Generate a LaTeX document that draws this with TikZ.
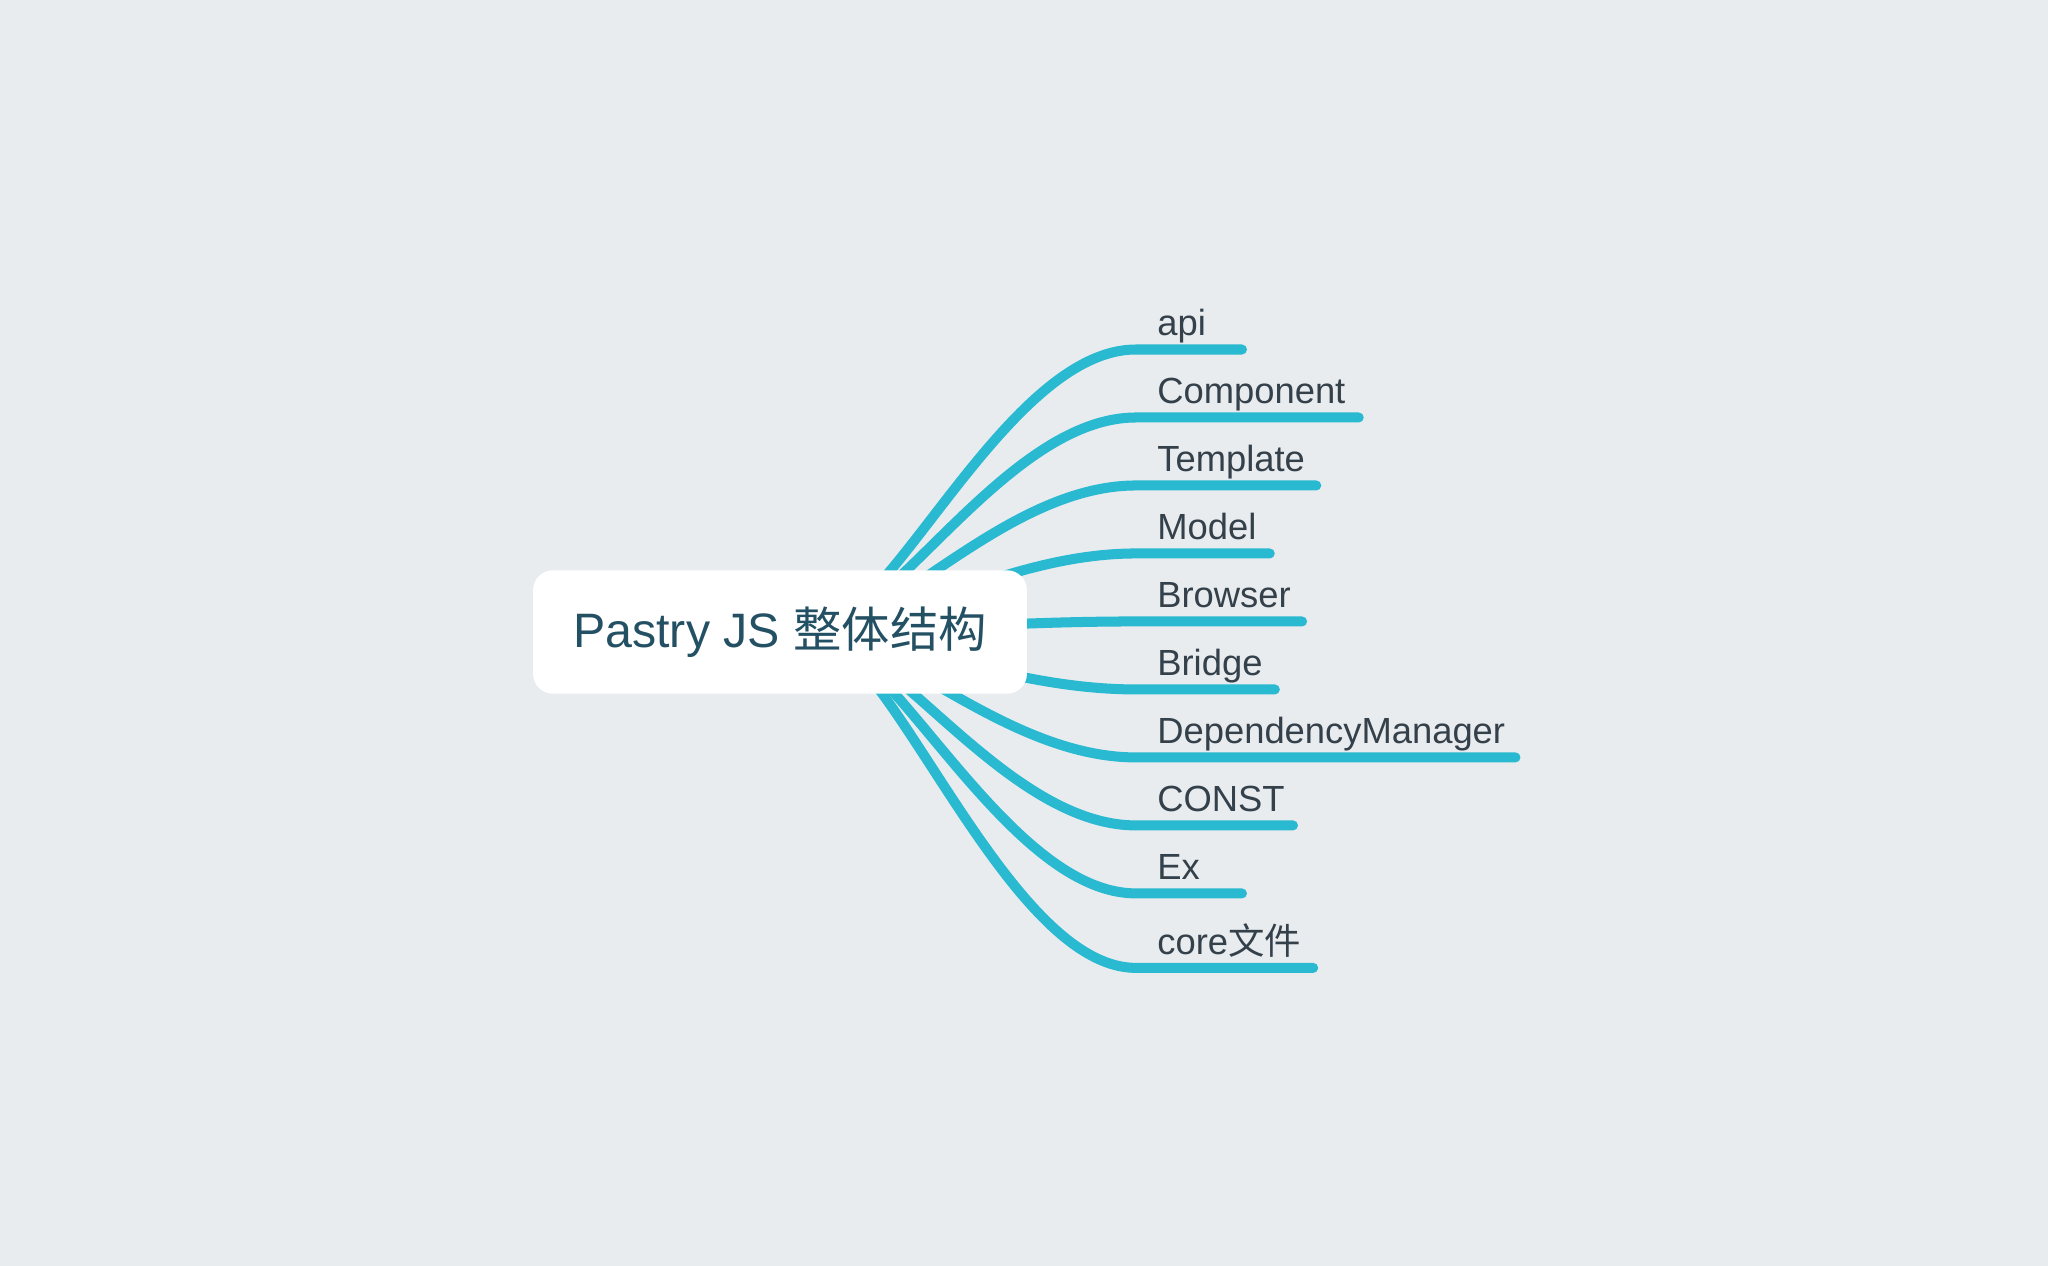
\documentclass[tikz,border=0pt]{standalone}
\usepackage{fontspec}
\setmainfont{Liberation Sans}
\newfontfamily\cjk{Noto Sans CJK SC}
\usepackage{tikz}
\definecolor{bgcol}{RGB}{232,236,239}
\definecolor{linecol}{RGB}{41,185,208}
\definecolor{leafcol}{RGB}{52,64,74}
\definecolor{topiccol}{RGB}{36,80,100}
\tikzstyle{topic} = [rectangle, rounded corners=0.4cm, fill=white, minimum width=9.88cm, minimum height=2.47cm, text=topiccol, font=\fontsize{27.5pt}{33pt}\selectfont]
\tikzstyle{subtopic} = [anchor=south west, inner sep=0pt, text height=18pt, text depth=7.6pt, text=leafcol, font=\fontsize{20.7pt}{25pt}\selectfont]
\tikzstyle{branch} = [line width=5.7pt, draw=linecol, line cap=round]

\begin{document}
\begin{tikzpicture}[x=0.02cm, y=-0.02cm]

\fill [bgcol] (0,0) rectangle (2048,1266);
\useasboundingbox (0,0) rectangle (2048,1266);

\coordinate (hub) at (810,632);
\node (api) [subtopic] at (1157,349.5) {api};
\node (component) [subtopic] at ([yshift=-1.36cm]api.south west) {Component};
\node (template) [subtopic] at ([yshift=-1.36cm]component.south west) {Template};
\node (model) [subtopic] at ([yshift=-1.36cm]template.south west) {Model};
\node (browser) [subtopic] at ([yshift=-1.36cm]model.south west) {Browser};
\node (bridge) [subtopic] at ([yshift=-1.36cm]browser.south west) {Bridge};
\node (depmgr) [subtopic] at ([yshift=-1.36cm]bridge.south west) {DependencyManager};
\node (const) [subtopic] at ([yshift=-1.36cm]depmgr.south west) {CONST};
\node (ex) [subtopic] at ([yshift=-1.36cm]const.south west) {Ex};
\node (core) [subtopic] at ([yshift=-1.49cm]ex.south west) {core{\cjk 文件}};

% branches run from behind the topic box
\draw [branch] (hub) .. controls +(78,0) and +(-131,0) .. ([xshift=-0.42cm]api.south west) -- ([xshift=1.7cm]api.south west);
\draw [branch] (hub) .. controls +(78,0) and +(-131,0) .. ([xshift=-0.42cm]component.south west) -- ([xshift=0.26cm]component.south east);
\draw [branch] (hub) .. controls +(78,0) and +(-131,0) .. ([xshift=-0.42cm]template.south west) -- ([xshift=0.22cm]template.south east);
\draw [branch] (hub) .. controls +(78,0) and +(-131,0) .. ([xshift=-0.42cm]model.south west) -- ([xshift=0.26cm]model.south east);
\draw [branch] (hub) .. controls +(78,0) and +(-131,0) .. ([xshift=-0.42cm]browser.south west) -- ([xshift=0.22cm]browser.south east);
\draw [branch] (hub) .. controls +(78,0) and +(-131,0) .. ([xshift=-0.42cm]bridge.south west) -- ([xshift=0.24cm]bridge.south east);
\draw [branch] (hub) .. controls +(78,0) and +(-131,0) .. ([xshift=-0.42cm]depmgr.south west) -- ([xshift=0.2cm]depmgr.south east);
\draw [branch] (hub) .. controls +(78,0) and +(-131,0) .. ([xshift=-0.42cm]const.south west) -- ([xshift=0.16cm]const.south east);
\draw [branch] (hub) .. controls +(78,0) and +(-131,0) .. ([xshift=-0.42cm]ex.south west) -- ([xshift=1.7cm]ex.south west);
\draw [branch] (hub) .. controls +(78,0) and +(-131,0) .. ([xshift=-0.42cm]core.south west) -- ([xshift=0.24cm]core.south east);

\node (root) [topic] at ([xshift=-0.6cm]hub) {Pastry JS {\cjk 整体结构}};

\end{tikzpicture}
\end{document}
